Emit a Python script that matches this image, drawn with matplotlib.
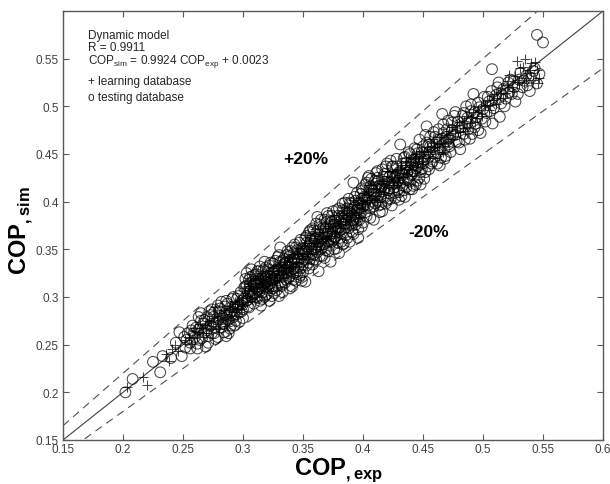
import matplotlib
matplotlib.use("Agg")
import matplotlib.pyplot as plt
import numpy as np

plt.rcParams['font.family'] = ['Liberation Sans', 'DejaVu Sans']
plt.rcParams['mathtext.fontset'] = 'custom'
plt.rcParams['mathtext.rm'] = 'Liberation Sans'
plt.rcParams['mathtext.bf'] = 'Liberation Sans:bold'

# testing database (circles): (COP_exp, COP_sim)
test_pts = [
    (0.202, 0.200), (0.208, 0.214), (0.225, 0.232), (0.231, 0.221), (0.233, 0.238),
    (0.240, 0.236), (0.244, 0.252), (0.247, 0.263), (0.249, 0.238), (0.252, 0.247),
    (0.254, 0.262), (0.256, 0.252), (0.258, 0.270), (0.260, 0.258), (0.262, 0.246),
    (0.263, 0.266), (0.265, 0.275), (0.266, 0.257), (0.268, 0.263), (0.270, 0.279),
    (0.271, 0.252), (0.273, 0.270), (0.274, 0.262), (0.276, 0.284), (0.277, 0.268),
    (0.279, 0.258), (0.280, 0.277), (0.281, 0.288), (0.283, 0.272), (0.284, 0.263),
    (0.285, 0.281), (0.287, 0.293), (0.288, 0.276), (0.289, 0.267), (0.290, 0.285),
    (0.291, 0.298), (0.292, 0.279), (0.293, 0.270), (0.294, 0.289), (0.295, 0.282),
    (0.296, 0.301), (0.297, 0.274), (0.298, 0.292), (0.299, 0.285), (0.300, 0.278),
    (0.282, 0.295), (0.272, 0.285), (0.286, 0.259), (0.263, 0.279), (0.269, 0.248),
    (0.301, 0.310), (0.302, 0.319), (0.303, 0.296), (0.304, 0.305), (0.305, 0.289),
    (0.306, 0.314), (0.307, 0.300), (0.308, 0.322), (0.309, 0.293), (0.310, 0.309),
    (0.311, 0.317), (0.312, 0.299), (0.313, 0.327), (0.314, 0.306), (0.315, 0.291),
    (0.316, 0.298), (0.317, 0.321), (0.318, 0.310), (0.319, 0.331), (0.320, 0.303),
    (0.321, 0.316), (0.322, 0.296), (0.323, 0.325), (0.324, 0.311), (0.325, 0.335),
    (0.326, 0.304), (0.327, 0.319), (0.328, 0.329), (0.329, 0.312), (0.330, 0.301),
    (0.331, 0.352), (0.332, 0.322), (0.3325, 0.3116), (0.333, 0.338), (0.334, 0.326),
    (0.335, 0.315), (0.336, 0.344), (0.337, 0.331), (0.338, 0.320), (0.339, 0.309),
    (0.340, 0.348), (0.341, 0.336), (0.342, 0.325), (0.343, 0.355), (0.344, 0.317),
    (0.345, 0.342), (0.346, 0.331), (0.347, 0.321), (0.348, 0.360), (0.349, 0.337),
    (0.350, 0.326), (0.351, 0.348), (0.352, 0.316), (0.353, 0.364), (0.354, 0.341),
    (0.355, 0.330), (0.356, 0.355), (0.357, 0.345), (0.358, 0.334), (0.359, 0.370),
    (0.360, 0.351), (0.361, 0.339), (0.362, 0.384), (0.363, 0.327), (0.364, 0.343),
    (0.365, 0.362), (0.366, 0.352), (0.367, 0.373), (0.368, 0.341), (0.369, 0.357),
    (0.370, 0.379), (0.371, 0.348), (0.372, 0.366), (0.373, 0.337), (0.374, 0.385),
    (0.375, 0.360), (0.376, 0.350), (0.377, 0.372), (0.378, 0.391), (0.379, 0.357),
    (0.380, 0.346), (0.381, 0.379), (0.382, 0.367), (0.383, 0.398), (0.384, 0.356),
    (0.385, 0.384), (0.386, 0.373), (0.387, 0.362), (0.388, 0.403), (0.389, 0.389),
    (0.390, 0.377), (0.391, 0.368), (0.392, 0.420), (0.393, 0.394), (0.394, 0.382),
    (0.395, 0.409), (0.396, 0.371), (0.397, 0.399), (0.398, 0.387), (0.399, 0.414),
    (0.400, 0.378),
    (0.401, 0.396), (0.402, 0.418), (0.403, 0.385), (0.404, 0.405), (0.405, 0.427),
    (0.406, 0.393), (0.407, 0.413), (0.408, 0.400), (0.409, 0.381), (0.410, 0.422),
    (0.411, 0.408), (0.412, 0.432), (0.413, 0.396), (0.414, 0.417), (0.415, 0.405),
    (0.416, 0.390), (0.417, 0.426), (0.418, 0.413), (0.419, 0.437), (0.420, 0.401),
    (0.421, 0.420), (0.422, 0.409), (0.423, 0.443), (0.424, 0.396), (0.425, 0.428),
    (0.426, 0.415), (0.427, 0.404), (0.428, 0.437), (0.429, 0.422), (0.430, 0.410),
    (0.431, 0.460), (0.432, 0.430), (0.433, 0.417), (0.434, 0.446), (0.435, 0.405),
    (0.436, 0.436), (0.437, 0.424), (0.438, 0.452), (0.439, 0.413), (0.440, 0.441),
    (0.441, 0.429), (0.442, 0.4166), (0.443, 0.456), (0.444, 0.435), (0.445, 0.422),
    (0.446, 0.447), (0.447, 0.465), (0.448, 0.431), (0.449, 0.452), (0.450, 0.440),
    (0.451, 0.424), (0.452, 0.470), (0.453, 0.479), (0.454, 0.446), (0.455, 0.434),
    (0.456, 0.458), (0.458, 0.442), (0.460, 0.468), (0.462, 0.451), (0.464, 0.438),
    (0.466, 0.492), (0.468, 0.445), (0.469, 0.463), (0.470, 0.476),
    (0.472, 0.458), (0.474, 0.483), (0.475, 0.470), (0.477, 0.494), (0.478, 0.463),
    (0.480, 0.478), (0.481, 0.455), (0.483, 0.490), (0.484, 0.471), (0.486, 0.500),
    (0.487, 0.482), (0.489, 0.466), (0.490, 0.495), (0.492, 0.513), (0.493, 0.478),
    (0.495, 0.489), (0.496, 0.504), (0.498, 0.472), (0.500, 0.497), (0.502, 0.484),
    (0.504, 0.510), (0.506, 0.495), (0.508, 0.482), (0.5075, 0.539), (0.510, 0.507),
    (0.512, 0.520), (0.514, 0.489), (0.516, 0.512), (0.518, 0.500), (0.521, 0.525),
    (0.524, 0.513), (0.527, 0.505), (0.530, 0.528), (0.533, 0.520), (0.536, 0.532),
    (0.539, 0.516), (0.542, 0.537), (0.545, 0.575), (0.550, 0.567), (0.545, 0.524),
]

# more testing points, in thousandths: x, y, x, y, ...
test_more = [
    261, 268, 264, 255, 267, 272, 270, 265, 273, 281, 276, 262, 278, 273, 280, 285,
    282, 268, 285, 290, 287, 276, 289, 283, 292, 300, 294, 275, 296, 291, 298, 305,
    300, 287, 259, 262, 265, 283, 271, 259, 275, 279, 279, 291, 283, 279, 286, 296,
    288, 262, 291, 290, 293, 282, 295, 298, 297, 284, 299, 296, 268, 276, 274, 287,
    277, 256, 284, 272, 290, 270, 262, 251, 257, 265, 253, 255, 251, 258, 256, 246,
    301, 298, 302, 311, 303, 325, 304, 297, 305, 318, 306, 306, 307, 329, 308, 301,
    309, 314, 310, 323, 311, 300, 312, 315, 313, 308, 314, 332, 315, 319, 316, 305,
    317, 312, 318, 337, 319, 302, 320, 322, 321, 309, 322, 333, 323, 314, 324, 301,
    325, 326, 326, 319, 327, 338, 328, 307, 329, 322, 330, 344, 331, 315, 332, 331,
    333, 305, 334, 340, 335, 325, 336, 318, 337, 348, 338, 332, 339, 322, 340, 339,
    341, 311, 342, 346, 343, 330, 344, 352, 345, 324, 346, 339, 347, 357, 348, 330,
    349, 317, 350, 345, 303, 312, 306, 321, 309, 303, 312, 327, 315, 313, 318, 300,
    321, 329, 324, 318, 327, 311, 330, 328, 333, 321, 336, 335, 339, 343, 342, 318,
    345, 349, 348, 323, 304, 290, 308, 316, 311, 324, 314, 296, 317, 328, 320, 311,
    323, 336, 326, 327, 329, 342, 332, 313, 335, 336, 338, 327, 341, 352, 344, 326,
    347, 345, 350, 334, 305, 302, 313, 319, 319, 316, 325, 309, 331, 337, 337, 325,
    343, 340, 349, 351,
    351, 339, 352, 362, 353, 333, 354, 353, 355, 368, 356, 340, 357, 359, 358, 372,
    359, 344, 360, 361, 361, 377, 362, 347, 363, 366, 364, 355, 365, 381, 366, 343,
    367, 362, 368, 381, 369, 349, 370, 366, 371, 385, 372, 354, 373, 372, 374, 358,
    375, 390, 376, 363, 377, 380, 378, 351, 379, 373, 380, 393, 381, 362, 382, 384,
    383, 355, 384, 377, 385, 399, 386, 365, 387, 386, 388, 372, 389, 358, 390, 398,
    391, 381, 392, 366, 393, 405, 394, 376, 395, 391, 396, 362, 397, 388, 398, 408,
    399, 374, 400, 395, 352, 348, 355, 336, 358, 363, 361, 352, 364, 376, 367, 355,
    370, 388, 373, 361, 376, 375, 379, 385, 382, 358, 385, 377, 388, 390, 391, 375,
    394, 401, 397, 381, 400, 412, 353, 357, 356, 370, 359, 339, 362, 369, 365, 350,
    368, 367, 371, 358, 374, 379, 377, 363, 380, 372, 383, 391, 386, 381, 389, 399,
    392, 386, 395, 380, 398, 398, 357, 351, 363, 358, 369, 373, 375, 367, 381, 370,
    387, 393, 393, 384, 399, 403,
    401, 405, 402, 389, 403, 420, 404, 396, 405, 412, 406, 383, 407, 424, 408, 408,
    409, 395, 410, 415, 411, 430, 412, 401, 413, 422, 414, 389, 415, 413, 416, 434,
    417, 405, 418, 421, 419, 398, 420, 440, 421, 412, 422, 426, 423, 403, 424, 418,
    425, 437, 426, 409, 427, 426, 428, 445, 429, 412, 430, 431, 431, 419, 432, 406,
    433, 440, 434, 424, 435, 447, 436, 415, 437, 431, 438, 422, 439, 450, 440, 428,
    441, 413, 442, 444, 443, 432, 444, 418, 445, 455, 446, 437, 447, 425, 448, 446,
    449, 434, 450, 458, 403, 402, 406, 416, 409, 408, 412, 425, 415, 397, 418, 429,
    421, 403, 424, 437, 427, 419, 430, 402, 433, 428, 436, 441, 439, 421, 442, 432,
    445, 441, 448, 418, 404, 425, 410, 398, 416, 417, 422, 414, 428, 428, 434, 412,
    440, 436, 446, 451,
    451, 444, 452, 431, 453, 462, 454, 437, 455, 452, 456, 468, 457, 440, 458, 457,
    459, 473, 460, 447, 461, 462, 462, 440, 463, 476, 464, 455, 465, 446, 466, 466,
    467, 481, 468, 455, 469, 448, 470, 468, 471, 485, 472, 466, 473, 452, 474, 475,
    476, 490, 477, 470, 479, 484, 480, 462, 482, 478, 484, 493, 485, 465, 487, 488,
    488, 476, 490, 502, 491, 471, 493, 494, 494, 482, 496, 475, 497, 499, 499, 487,
    455, 460, 459, 451, 463, 465, 467, 472, 471, 460,
    501, 510, 503, 493, 505, 505, 507, 516, 509, 498, 511, 512, 513, 525, 515, 503,
    517, 518, 519, 508, 522, 515, 523, 528, 526, 520, 529, 513, 531, 535, 534, 527,
    537, 522, 540, 530, 543, 540, 547, 534,
]

# learning database (plus signs)
learn_pts = [
    (0.203, 0.206), (0.217, 0.216), (0.220, 0.208), (0.236, 0.240), (0.241, 0.245),
    (0.243, 0.250), (0.238, 0.233), (0.246, 0.243),
    (0.255, 0.258), (0.259, 0.264), (0.262, 0.258), (0.266, 0.268), (0.269, 0.262),
    (0.272, 0.275), (0.275, 0.270), (0.278, 0.280), (0.281, 0.276), (0.284, 0.286),
    (0.286, 0.279), (0.289, 0.291), (0.291, 0.284), (0.293, 0.295), (0.295, 0.288),
    (0.297, 0.297), (0.299, 0.291), (0.277, 0.290), (0.287, 0.270), (0.264, 0.272),
    (0.302, 0.304), (0.304, 0.312), (0.306, 0.299), (0.308, 0.308), (0.310, 0.318),
    (0.312, 0.306), (0.314, 0.315), (0.316, 0.309), (0.318, 0.322), (0.320, 0.313),
    (0.322, 0.319), (0.324, 0.327), (0.326, 0.316), (0.328, 0.323), (0.330, 0.333),
    (0.332, 0.328), (0.334, 0.337), (0.336, 0.325), (0.338, 0.341), (0.340, 0.331),
    (0.342, 0.345), (0.344, 0.337), (0.346, 0.351), (0.348, 0.341), (0.350, 0.346),
    (0.352, 0.357), (0.354, 0.348), (0.356, 0.362), (0.358, 0.352), (0.360, 0.366),
    (0.362, 0.357), (0.364, 0.368), (0.366, 0.359), (0.368, 0.374), (0.370, 0.365),
    (0.372, 0.377), (0.374, 0.369), (0.376, 0.382), (0.378, 0.373), (0.380, 0.386),
    (0.382, 0.377), (0.384, 0.391), (0.386, 0.382), (0.388, 0.393), (0.390, 0.386),
    (0.392, 0.398), (0.394, 0.389), (0.396, 0.402), (0.398, 0.393), (0.400, 0.405),
    (0.402, 0.398), (0.404, 0.410), (0.406, 0.402), (0.408, 0.414), (0.410, 0.406),
    (0.412, 0.419), (0.414, 0.410), (0.416, 0.422), (0.418, 0.414), (0.420, 0.427),
    (0.422, 0.418), (0.424, 0.431), (0.426, 0.422), (0.428, 0.433), (0.430, 0.426),
    (0.432, 0.438), (0.434, 0.430), (0.436, 0.443), (0.438, 0.434), (0.440, 0.446),
    (0.442, 0.438), (0.444, 0.450), (0.446, 0.441), (0.448, 0.453), (0.450, 0.446),
    (0.453, 0.457), (0.456, 0.450), (0.459, 0.462), (0.462, 0.457), (0.465, 0.468),
    (0.468, 0.462),
    (0.472, 0.474), (0.475, 0.466), (0.478, 0.480), (0.481, 0.473), (0.484, 0.485),
    (0.487, 0.478), (0.490, 0.489), (0.493, 0.484), (0.496, 0.496), (0.499, 0.490),
    (0.502, 0.501), (0.505, 0.496), (0.508, 0.507), (0.511, 0.502), (0.514, 0.514),
    (0.517, 0.509), (0.520, 0.522), (0.522, 0.533), (0.525, 0.516), (0.528, 0.528),
    (0.531, 0.540), (0.534, 0.524), (0.537, 0.535), (0.540, 0.545), (0.542, 0.528),
    (0.545, 0.538), (0.547, 0.530), (0.535, 0.550), (0.528, 0.548),
]

learn_more = [
    252, 255, 257, 251, 260, 268, 263, 263, 267, 262, 270, 273, 273, 266, 276, 278,
    279, 272, 282, 283, 285, 277, 288, 287, 290, 280, 292, 290, 294, 284, 296, 293,
    298, 287, 300, 299, 268, 271, 280, 266,
    301, 309, 303, 301, 305, 307, 307, 314, 309, 306, 311, 311, 313, 320, 315, 310,
    317, 317, 319, 325, 321, 314, 323, 321, 325, 330, 327, 318, 329, 327, 331, 335,
    333, 324, 335, 331, 337, 338, 339, 329, 341, 340, 343, 333, 345, 345, 347, 336,
    349, 343, 303, 295, 306, 315, 310, 300, 314, 325, 318, 312, 322, 327, 326, 323,
    330, 320, 334, 342, 338, 334, 342, 331, 346, 346, 350, 340, 316, 320, 336, 328,
    351, 353, 353, 345, 355, 357, 357, 350, 359, 360, 361, 353, 363, 362, 365, 357,
    367, 368, 369, 361, 371, 372, 373, 364, 375, 375, 377, 368, 379, 380, 381, 372,
    383, 384, 385, 377, 387, 388, 389, 380, 391, 391, 393, 384, 395, 396, 397, 388,
    399, 399, 352, 365, 356, 345, 360, 371, 364, 350, 368, 378, 372, 359, 376, 386,
    380, 366, 384, 394, 388, 376, 392, 402, 396, 383, 400, 392, 366, 364, 386, 386,
    401, 409, 403, 400, 405, 407, 407, 418, 409, 402, 411, 413, 413, 406, 415, 420,
    417, 410, 419, 422, 421, 415, 423, 426, 425, 418, 427, 430, 429, 421, 431, 434,
    433, 426, 435, 438, 437, 429, 439, 442, 441, 433, 443, 445, 445, 436, 447, 448,
    449, 440, 404, 418, 412, 400, 420, 432, 428, 420, 436, 446,
    451, 452, 454, 446, 457, 458, 460, 454, 463, 461, 466, 458, 469, 470, 471, 463,
    474, 478, 477, 472, 480, 484, 483, 477, 486, 490, 489, 483, 492, 494, 495, 488,
    498, 500, 458, 466, 467, 452, 485, 474,
    503, 507, 506, 501, 509, 513, 512, 509, 515, 519, 518, 514, 521, 527, 524, 520,
    527, 532, 530, 526, 533, 541, 536, 530, 539, 538, 543, 547, 546, 525,
]

test_x = [p[0] for p in test_pts] + [v / 1000 for v in test_more[0::2]]
test_y = [p[1] for p in test_pts] + [v / 1000 for v in test_more[1::2]]
learn_x = [p[0] for p in learn_pts] + [v / 1000 for v in learn_more[0::2]]
learn_y = [p[1] for p in learn_pts] + [v / 1000 for v in learn_more[1::2]]

fig = plt.figure(figsize=(6.1, 4.85), dpi=100)
ax = fig.add_axes([63/610, 44/485, 540/610, 429/485])

lims = np.array([0.15, 0.6])
ax.plot(lims, lims, color='0.25', lw=0.8, zorder=1)
ax.plot(lims, 1.1*lims, color='0.3', lw=0.8, ls=(0, (7, 5)), zorder=1)
ax.plot(lims, 0.9*lims, color='0.3', lw=0.8, ls=(0, (7, 5)), zorder=1)

ax.scatter(test_x, test_y, s=60, facecolors='none', edgecolors='black',
           linewidths=0.75, alpha=0.72, zorder=2)
ax.scatter(learn_x, learn_y, s=62, marker='+', color='black',
           linewidths=0.75, alpha=0.72, zorder=3)

ax.set_xlim(0.15, 0.6)
ax.set_ylim(0.15, 0.6)
ax.set_xticks([0.15, 0.2, 0.25, 0.3, 0.35, 0.4, 0.45, 0.5, 0.55, 0.6])
ax.set_xticklabels(['0.15', '0.2', '0.25', '0.3', '0.35', '0.4', '0.45', '0.5', '0.55', '0.6'])
ax.set_yticks([0.15, 0.2, 0.25, 0.3, 0.35, 0.4, 0.45, 0.5, 0.55])
ax.set_yticklabels(['0.15', '0.2', '0.25', '0.3', '0.35', '0.4', '0.45', '0.5', '0.55'])
ax.tick_params(direction='in', top=True, right=True, length=4, width=0.8,
               color='0.35', labelsize=8.5, labelcolor='0.25', pad=2)
ax.tick_params(axis='y', pad=3)
for s in ax.spines.values():
    s.set_color('0.35')
    s.set_linewidth(1.0)

ax.set_xlabel(r'$\mathbf{COP}_{\mathbf{,exp}}$', fontsize=17)
ax.xaxis.set_label_coords(0.51, -0.035)
ax.set_ylabel(r'$\mathbf{COP}_{\mathbf{,sim}}$', fontsize=17)
ax.yaxis.set_label_coords(-0.052, 0.49)

info = ['Dynamic model', 'R = 0.9911',
        r'COP$_{\mathrm{sim}}$ = 0.9924 COP$_{\mathrm{exp}}$ + 0.0023',
        '+ learning database', 'o testing database']
ys = [0.5745, 0.5618, 0.5477, 0.5267, 0.510]
for t, yy in zip(info, ys):
    ax.text(0.171, yy, t, fontsize=8.5, color='0.15', va='center', ha='left')

ax.text(0.3525, 0.445, '+20%', fontsize=12.5, fontweight='bold', ha='center', va='center')
ax.text(0.455, 0.369, '-20%', fontsize=12.5, fontweight='bold', ha='center', va='center')

fig.savefig('out.png', dpi=100)
